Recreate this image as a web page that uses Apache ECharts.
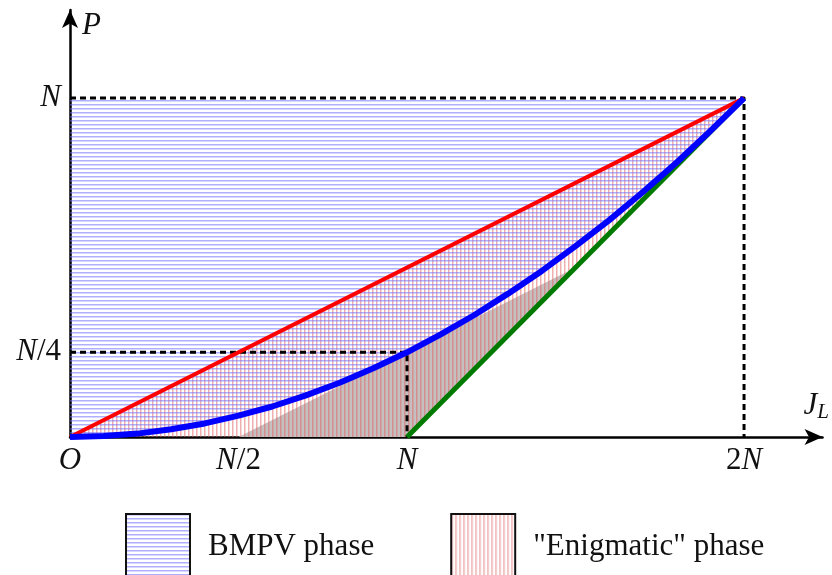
<!DOCTYPE html>
<html>
<head>
<meta charset="utf-8">
<script src="https://cdn.jsdelivr.net/npm/echarts@6/dist/echarts.min.js"></script>
<style>html,body{margin:0;padding:0;background:#fff;}#c{width:832px;height:575px;}</style>
</head>
<body>
<div id="c"></div>
<script>
// ---- data (units of N) ----
const xTicks = [0, 0.5, 1, 2];
const xTickLabels = ['O', 'N/2', 'N', '2N'];
const yTicks = [0.25, 1];
const yTickLabels = ['N/4', 'N'];
const redLine = [[0, 0], [2, 1]];
const greenLine = [[1, 0], [2, 1]];
const blueCurve = [[0,0],[0.1,0.003],[0.2,0.01],[0.3,0.023],[0.4,0.04],[0.5,0.063],[0.6,0.09],[0.7,0.123],[0.8,0.16],[0.9,0.203],[1.0,0.25],[1.1,0.303],[1.2,0.36],[1.3,0.423],[1.4,0.49],[1.5,0.563],[1.6,0.64],[1.7,0.723],[1.8,0.81],[1.9,0.903],[2.0,1.0]];
const bmpvRegion = blueCurve.concat([[0, 1]]);
const enigmaticRegion = [[0, 0], [2, 1], [1, 0]];
const greyRegion = [[0.5, 0], [1, 0], [1.5, 0.5]];
const guideTop = [[0, 1], [2, 1], [2, 0]];
const guideQuarter = [[0, 0.25], [1, 0.25], [1, 0]];
const legendNames = ['BMPV phase', '"Enigmatic" phase'];

// ---- hatch patterns ----
function hatch(horizontal, color) {
  const c = document.createElement('canvas');
  c.width = 4; c.height = 4;
  const g = c.getContext('2d');
  g.fillStyle = color;
  if (horizontal) g.fillRect(0, 0, 4, 1.5); else g.fillRect(0, 0, 1.5, 4);
  return { image: c, repeat: 'repeat' };
}
const bluePat = hatch(true, 'rgba(110,110,255,0.55)');
const redPat = hatch(false, 'rgba(225,95,95,0.5)');

function mathRich(s) {
  return s.replace(/([A-Za-z]+)|([^A-Za-z]+)/g, (m, a, b) => a ? '{i|' + a + '}' : '{r|' + b + '}');
}
const mathFont = 'Liberation Serif';
const rich = {
  i: { fontFamily: mathFont, fontStyle: 'italic', fontSize: 31, color: '#111' },
  r: { fontFamily: mathFont, fontStyle: 'normal', fontSize: 31, color: '#111' },
  s: { fontFamily: mathFont, fontStyle: 'italic', fontSize: 21, color: '#111', padding: [14, 0, 0, 0] }
};

function polySeries(name, pts, fill, z) {
  return {
    type: 'custom', name: name, z: z, silent: true,
    itemStyle: { color: fill },
    data: [[0, 0]],
    renderItem: function (params, api) {
      return { type: 'polygon', shape: { points: pts.map(p => api.coord(p)) }, style: { fill: fill, stroke: null } };
    }
  };
}
function lineSeries(data, color, width, z, dashed) {
  return {
    type: 'line', data: data, z: z, silent: true, showSymbol: false, symbol: 'none',
    lineStyle: { color: color, width: width, type: dashed ? [6, 4] : 'solid', cap: 'butt', join: 'round' }
  };
}

const chart = echarts.init(document.getElementById('c'), null, { renderer: 'canvas' });
chart.setOption({
  animation: false,
  backgroundColor: '#fff',
  grid: { left: 70, top: 10, width: 757, height: 427, containLabel: false },
  xAxis: {
    type: 'value', min: 0, max: 2.233,
    name: '{i|J}{s|L}', nameLocation: 'end', nameGap: -19,
    nameTextStyle: { align: 'left', verticalAlign: 'bottom', padding: [0, 0, 14, 0], rich: rich },
    axisLine: { show: true, onZero: true, symbol: ['none', 'arrow'], symbolSize: [12, 18], lineStyle: { color: '#000', width: 2.5 } },
    axisTick: { show: false },
    splitLine: { show: false },
    axisLabel: {
      customValues: xTicks, margin: 8, showMinLabel: true, showMaxLabel: true,
      formatter: v => mathRich(xTickLabels[xTicks.indexOf(v)] || ''), rich: rich
    }
  },
  yAxis: {
    type: 'value', min: 0, max: 1.26,
    name: '{i|P}', nameLocation: 'end', nameGap: -16,
    nameTextStyle: { align: 'left', verticalAlign: 'middle', padding: [0, 0, 0, 12], rich: rich },
    axisLine: { show: true, onZero: true, symbol: ['none', 'arrow'], symbolSize: [12, 18], lineStyle: { color: '#000', width: 2.5 } },
    axisTick: { show: false },
    splitLine: { show: false },
    axisLabel: {
      customValues: yTicks, margin: 9,
      formatter: v => mathRich(yTickLabels[yTicks.indexOf(v)] || ''), rich: rich
    }
  },
  legend: {
    left: 125, top: 513, padding: 0, itemWidth: 64, itemHeight: 66, itemGap: 76, icon: 'rect',
    selectedMode: false,
    textStyle: { fontFamily: mathFont, fontSize: 31, color: '#111', padding: [0, 0, 0, 13] },
    data: [
      { name: legendNames[0], itemStyle: { color: bluePat, borderColor: '#111', borderWidth: 2 } },
      { name: legendNames[1], itemStyle: { color: redPat, borderColor: '#111', borderWidth: 2 } }
    ]
  },
  series: [
    polySeries('grey', greyRegion, '#c6bfbf', 1),
    polySeries(legendNames[1], enigmaticRegion, redPat, 2),
    polySeries(legendNames[0], bmpvRegion, bluePat, 3),
    lineSeries(guideTop, '#000', 3, 4, true),
    lineSeries(guideQuarter, '#000', 3, 4, true),
    lineSeries(greenLine, '#007a00', 5, 5, false),
    lineSeries(redLine, '#ff0000', 4, 6, false),
    lineSeries(blueCurve, '#0000ff', 6, 7, false)
  ]
});
</script>
</body>
</html>
